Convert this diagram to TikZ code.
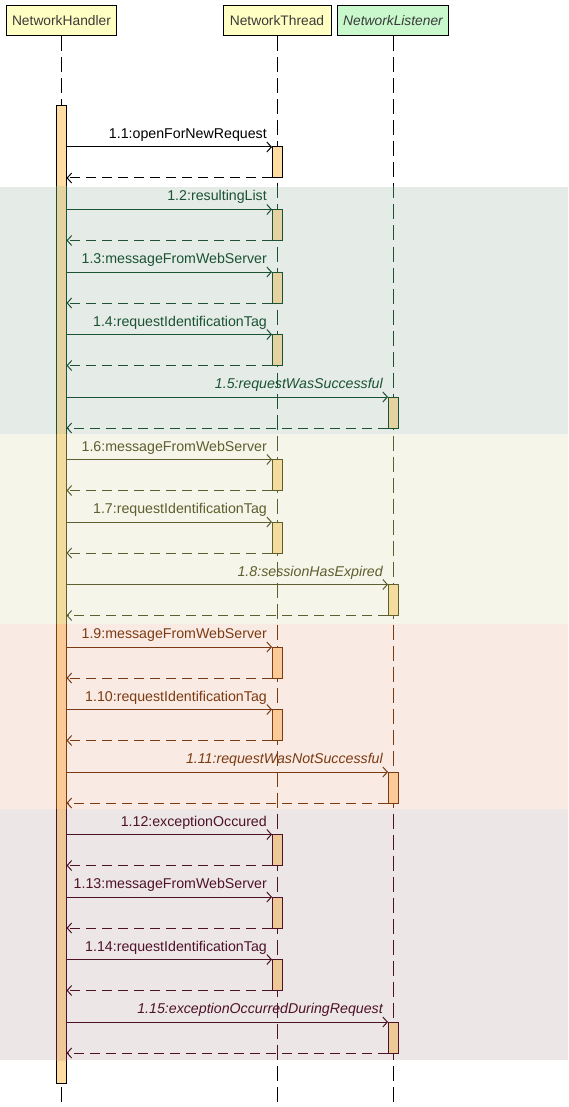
\documentclass[tikz,border=0pt]{standalone}
\usepackage{fontspec}
\setmainfont{Liberation Sans}
\usetikzlibrary{arrows.meta}
\definecolor{barfill}{HTML}{FFDDA2}
\definecolor{headfill}{HTML}{FFFFC4}
\definecolor{listfill}{HTML}{C8F8CC}
\definecolor{headtext}{HTML}{3A3A3A}
\colorlet{g0}{black}\colorlet{barg0}{barfill}
\definecolor{g1}{HTML}{1B5233}\definecolor{bgg1}{HTML}{E5ECE7}\definecolor{barg1}{HTML}{E4D3A0}
\definecolor{g2}{HTML}{5E5E2E}\definecolor{bgg2}{HTML}{F5F5EA}\definecolor{barg2}{HTML}{F3DC9E}
\definecolor{g3}{HTML}{7B3B12}\definecolor{bgg3}{HTML}{FAEAE4}\definecolor{barg3}{HTML}{FACB96}
\definecolor{g4}{HTML}{4D1228}\definecolor{bgg4}{HTML}{EDE6E7}\definecolor{barg4}{HTML}{EEC998}
\newcommand\headfont{\fontsize{13.8}{16}\selectfont}
\newcommand\msgfont{\fontsize{14.2}{16}\selectfont}
\tikzset{
  head/.style={draw,line width=1pt,fill=headfill,text=headtext,font=\headfont,
    minimum height=30pt,inner xsep=5pt},
  life/.style={line width=1pt,dash pattern=on 15pt off 6pt},
  bar/.style={line width=1pt},
  msg/.style={line width=1pt,-{Straight Barb[length=4.5pt,width=10pt]}},
  ret/.style={msg,dash pattern=on 10.5pt off 5.5pt},
  lab-t/.style={font=\msgfont},
  lab-l/.style={font=\msgfont\itshape}
}
% lifelines and the long activation bar
\newcommand\lanes[2]{%
  \foreach \n in {nh,nt,nl} \draw[life,draw=#1] (\n.south) -- (\n.south |- bot);
  \draw[bar,draw=#1,fill=#2] (hb1) rectangle (hb2);}
\begin{document}
\begin{tikzpicture}[x=1pt,y=-1pt]
\useasboundingbox (0,0) rectangle (568,1107);
\node[head,minimum width=110pt] (nh) at (61.5,21) {NetworkHandler};
\node[head,minimum width=108pt] (nt) at (277,21) {NetworkThread};
\node[head,minimum width=111pt,fill=listfill,font=\headfont\itshape] (nl) at (393,21) {NetworkListener};
\coordinate (bot) at (0,1107);
\coordinate (hb1) at (56.5,106); \coordinate (hb2) at (66.5,1083);

\lanes{black}{barfill}
% coloured groups
\foreach \b/\t/\u in {g1/187/434,g2/434/624,g3/624/809,g4/809/1060}{
  \begin{scope}
    \clip (0,\t) rectangle (568,\u);
    \fill[bg\b] (0,\t) rectangle (568,\u);
    \lanes{\b}{bar\b}
  \end{scope}}

% messages and returns
\foreach \i/\lab/\who/\g in {1/openForNewRequest/t/g0,2/resultingList/t/g1,
    3/messageFromWebServer/t/g1,4/requestIdentificationTag/t/g1,
    5/requestWasSuccessful/l/g1,6/messageFromWebServer/t/g2,
    7/requestIdentificationTag/t/g2,8/sessionHasExpired/l/g2,
    9/messageFromWebServer/t/g3,10/requestIdentificationTag/t/g3,
    11/requestWasNotSuccessful/l/g3,12/exceptionOccured/t/g4,
    13/messageFromWebServer/t/g4,14/requestIdentificationTag/t/g4,
    15/exceptionOccurredDuringRequest/l/g4}{
  \pgfmathsetmacro\y{147+(\i-1)*62.5}
  \coordinate (y\i) at (0,\y);
  \coordinate (s\i) at ([xshift=5pt]nh.south |- y\i);
  \coordinate (e\i) at ([xshift=-5pt]n\who.south |- y\i);
  \coordinate (f\i) at ([yshift=-31pt]e\i);
  \coordinate (r\i) at ([yshift=-31pt]s\i);
  \draw[bar,draw=\g,fill=bar\g] (e\i) rectangle ([xshift=10pt]f\i);
  \draw[msg,\g] (s\i) -- (e\i);
  \draw[ret,\g] (f\i) -- (r\i);
  \node[lab-\who,text=\g,anchor=base east,inner sep=0pt] (m\i)
    at ([xshift=-5pt,yshift=8.5pt]e\i) {1.\i:\lab};
}
\end{tikzpicture}
\end{document}
